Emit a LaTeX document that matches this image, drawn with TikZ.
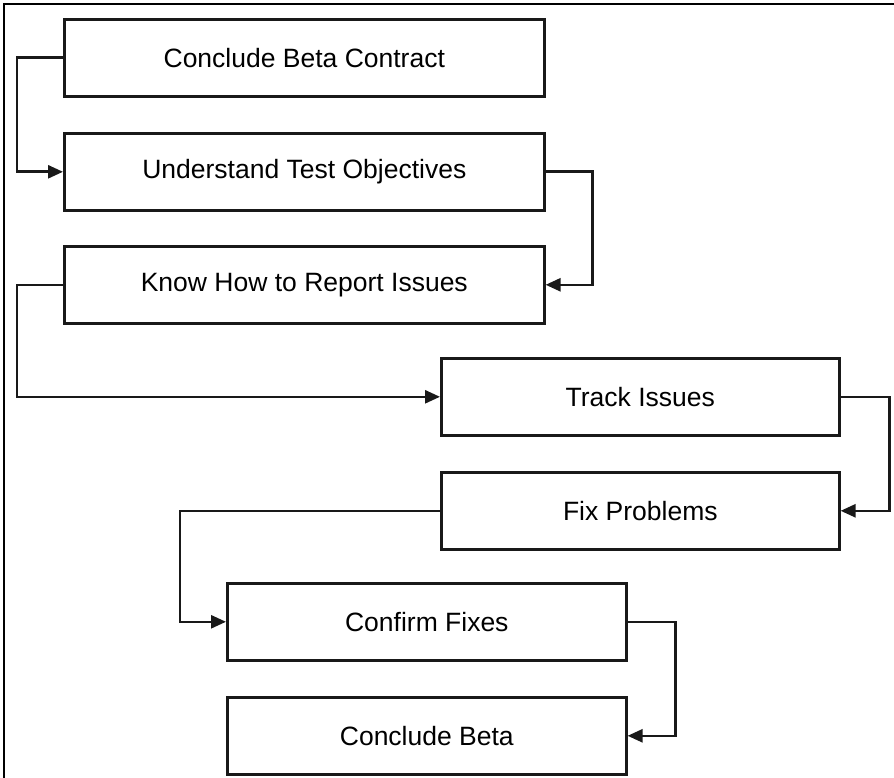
\documentclass[tikz,border=0pt]{standalone}
\usepackage{fontspec}
\setmainfont{Liberation Sans}
\usetikzlibrary{arrows.meta}

\tikzset{
  stepbox/.style={draw=black!90, line width=2.6pt, minimum height=77pt,
    inner sep=0pt, anchor=north west, font=\fontsize{26.5}{30}\selectfont},
  flow/.style={draw=black!90, line width=2.6pt,
    -{Triangle[length=15pt,width=13pt]}}
}

\begin{document}
\begin{tikzpicture}[x=1pt,y=-1pt]
\useasboundingbox (0,0) rectangle (894,778);

% Frame
\draw[line width=2pt] (4,778) -- (4,4) -- (894,4);

% Steps
\node[stepbox, minimum width=480pt] (contract) at (63,18) {Conclude Beta Contract};
\node[stepbox, minimum width=480pt] (objectives) at (63,132) {Understand Test Objectives};
\node[stepbox, minimum width=480pt] (report) at (63,245) {Know How to Report Issues};
\node[stepbox, minimum width=398pt] (track) at (440,357) {Track Issues};
\node[stepbox, minimum width=398pt] (fix) at (440,471) {Fix Problems};
\node[stepbox, minimum width=399pt] (confirm) at (226,582) {Confirm Fixes};
\node[stepbox, minimum width=399pt] (conclude) at (226,696) {Conclude Beta};

% Connections
\draw[flow] (contract.west) -- ++(-46,0) |- (objectives.west);
\draw[flow] (objectives.east) -- ++(47,0) |- (report.east);
\draw[flow] (report.west) -- ++(-46,0) |- (track.west);
\draw[flow] (track.east) -- ++(49,0) |- (fix.east);
\draw[flow] (fix.west) -- ++(-260,0) |- (confirm.west);
\draw[flow] (confirm.east) -- ++(48,0) |- (conclude.east);
\end{tikzpicture}
\end{document}
